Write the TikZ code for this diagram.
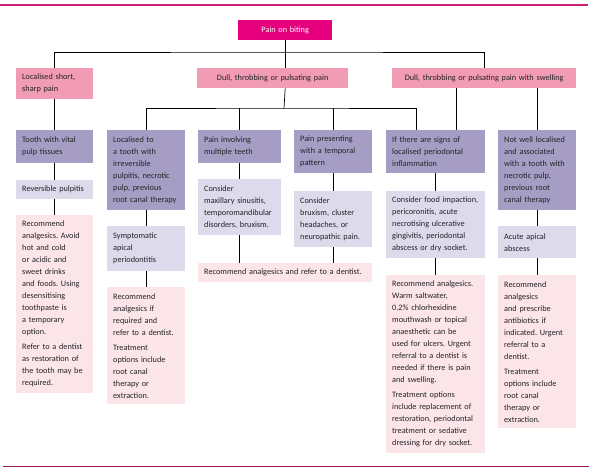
\documentclass[tikz,border=0pt]{standalone}
\usepackage{fontspec}
\setmainfont{Carlito}
\frenchspacing
\usepackage{tikz}
\usetikzlibrary{positioning}
\definecolor{rulemagenta}{RGB}{198,32,112}
\definecolor{rootpink}{RGB}{230,0,126}
\definecolor{symppink}{RGB}{242,155,180}
\definecolor{condpurple}{RGB}{166,157,197}
\definecolor{diaglilac}{RGB}{221,219,235}
\definecolor{advicepink}{RGB}{252,229,233}
\definecolor{textgrey}{RGB}{35,35,40}
\tikzstyle{base} = [rectangle,anchor=north west,inner xsep=6pt,inner ysep=0pt,align=left,text=textgrey,font={\fontsize{8.25}{12}\selectfont\hyphenpenalty=10000}]
\tikzstyle{rootbox} = [base,fill=rootpink,text=white,align=center]
\tikzstyle{sympt} = [base,fill=symppink]
\tikzstyle{cond} = [base,fill=condpurple]
\tikzstyle{diag} = [base,fill=diaglilac]
\tikzstyle{advice} = [base,fill=advicepink]
\tikzstyle{conn} = [line width=0.7pt,black]

\begin{document}
\begin{tikzpicture}[x=1pt,y=-1pt]
\useasboundingbox (0,0) rectangle (594,472);
\draw [rulemagenta,line width=2.5pt] (0,5) -- (588,5);
\draw [rulemagenta!80!black,line width=0.8pt] (3,466) -- (589,466);

\node (root) [rootbox,text width=82pt,minimum height=20pt] at (238,20) {Pain on biting};

\node (l1a) [sympt,text width=65pt,minimum height=31pt] at (16,68) {Localised short,\\sharp pain};
\node (l1b) [sympt,align=center,text width=139pt,minimum height=20pt] at (197,68) {Dull, throbbing or pulsating pain};
\node (l1c) [sympt,align=center,text width=172pt,minimum height=20pt] at (392,68) {Dull, throbbing or pulsating pain with swelling};

\node (t1) [cond,text width=65pt,minimum height=33pt] at (16,130) {Tooth with vital\\pulp tissues};
\node (t2) [cond,text width=66pt,minimum height=80pt] at (107,130) {Localised to\\a tooth with\\irreversible\\pulpitis, necrotic\\pulp, previous\\root canal therapy};
\node (t3) [cond,text width=71pt,minimum height=33pt] at (198,130) {Pain involving\\multiple teeth};
\node (t4) [cond,text width=66pt,minimum height=43pt] at (294,130) {Pain presenting\\with a temporal\\pattern};
\node (t5) [cond,text width=87pt,minimum height=43pt] at (386,130) {If there are signs of\\localised periodontal\\inflammation};
\node (t6) [cond,text width=66pt,minimum height=80pt] at (498,130) {Not well localised\\and associated\\with a tooth with\\necrotic pulp,\\previous root\\canal therapy};

\node (d1) [diag,text width=65pt,minimum height=19pt] at (16,180) {Reversible pulpitis};
\node (d2) [diag,text width=66pt,minimum height=45pt] at (107,226) {Symptomatic\\apical\\periodontitis};
\node (d3) [diag,text width=71pt,minimum height=56pt] at (198,179) {Consider\\maxillary sinusitis,\\temporomandibular\\disorders, bruxism.};
\node (d4) [diag,text width=66pt,minimum height=56pt] at (294,191) {Consider\\bruxism, cluster\\headaches, or\\neuropathic pain.};
\node (d5) [diag,text width=87pt,minimum height=67pt] at (386,191) {Consider food impaction,\\pericoronitis, acute\\necrotising ulcerative\\gingivitis, periodontal\\abscess or dry socket.};
\node (d6) [diag,text width=66pt,minimum height=32pt] at (498,226) {Acute apical\\abscess};

\node (r1) [advice,text width=65pt,minimum height=178pt] at (16,215) {Recommend\\analgesics. Avoid\\hot and cold\\or acidic and\\sweet drinks\\and foods. Using\\desensitising\\toothpaste is\\a temporary\\option.\\[3pt]Refer to a dentist\\as restoration of\\the tooth may be\\required.};
\node (r2) [advice,text width=66pt,minimum height=117pt] at (107,287) {Recommend\\analgesics if\\required and\\refer to a dentist.\\[3pt]Treatment\\options include\\root canal\\therapy or\\extraction.};
\node (r3) [advice,text width=162pt,minimum height=19pt] at (198,263) {Recommend analgesics and refer to a dentist.};
\node (r5) [advice,text width=87pt,minimum height=178pt] at (386,275) {Recommend analgesics.\\Warm saltwater,\\0.2\% chlorhexidine\\mouthwash or topical\\anaesthetic can be\\used for ulcers. Urgent\\referral to a dentist is\\needed if there is pain\\and swelling.\\[3pt]Treatment options\\include replacement of\\restoration, periodontal\\treatment or sedative\\dressing for dry socket.};
\node (r6) [advice,text width=66pt,minimum height=153pt] at (498,275) {Recommend\\analgesics\\and prescribe\\antibiotics if\\indicated. Urgent\\referral to a\\dentist.\\[3pt]Treatment\\options include\\root canal\\therapy or\\extraction.};

\coordinate (rootbar) at (284,52);
\coordinate (dullbar) at (284,108);
\coordinate (signsin) at (416,130);
\coordinate (swellin) at (456,130);

\draw [conn] (root.south) -- (root.south |- l1b.north);
\draw [conn] (l1a.north) |- (rootbar) -| (l1c.north);
\draw [conn] (root.south |- l1b.south) -- (dullbar);
\draw [conn] (t2.north) |- (dullbar) -| (signsin);
\draw [conn] (t3.north) -- (t3.north |- dullbar);
\draw [conn] (t4.north) -- (t4.north |- dullbar);
\draw [conn] (swellin) -- (swellin |- l1c.south);
\draw [conn] (t6.north) -- (t6.north |- l1c.south);
\draw [conn] (l1a) -- (t1);
\draw [conn] (t1) -- (d1);
\draw [conn] (t2) -- (d2);
\draw [conn] (t3) -- (d3);
\draw [conn] (t4) -- (d4);
\draw [conn] (t5) -- (d5);
\draw [conn] (t6) -- (d6);
\draw [conn] (d1) -- (r1);
\draw [conn] (d2) -- (r2);
\draw [conn] (d3.south) -- (d3.south |- r3.north);
\draw [conn] (d4.south) -- (d4.south |- r3.north);
\draw [conn] (d5) -- (r5);
\draw [conn] (d6) -- (r6);
\end{tikzpicture}
\end{document}
